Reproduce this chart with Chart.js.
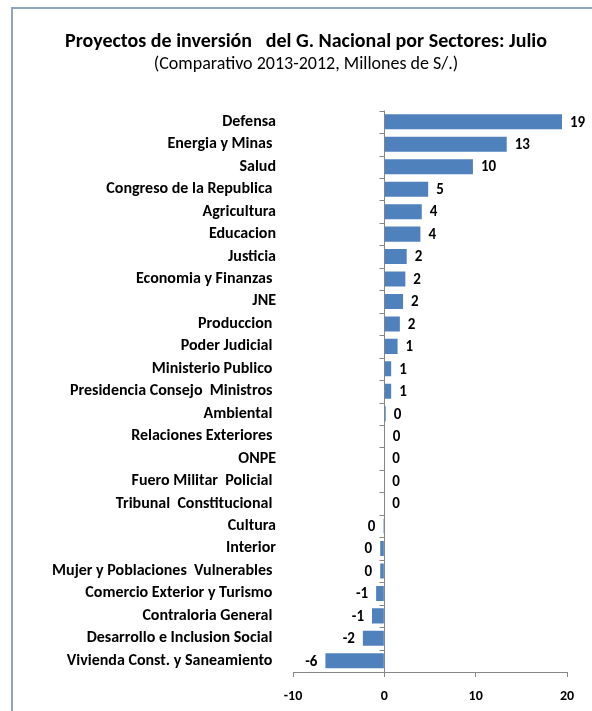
<!DOCTYPE html>
<html>
<head>
<meta charset="utf-8">
<script src="https://cdn.jsdelivr.net/npm/chart.js@4/dist/chart.umd.min.js"></script>
<style>
  html, body { margin: 0; padding: 0; background: #ffffff; }
  #wrap { position: relative; width: 592px; height: 711px; overflow: hidden; background: #fff; }
  #frame { position: absolute; left: 11px; top: 7px; width: 600px; height: 720px;
           border-left: 2px solid #8EA4C2; border-top: 2px solid #8EA4C2; pointer-events: none; }
  canvas { position: absolute; left: 0; top: 0; }
</style>
</head>
<body>
<div id="wrap">
  <canvas id="c" width="592" height="711"></canvas>
  <div id="frame"></div>
</div>
<script>
const titleText = 'Proyectos de inversión   del G. Nacional por Sectores: Julio';
const subtitleText = '(Comparativo 2013-2012, Millones de S/.)';

const categories = [
  'Defensa', 'Energia y Minas ', 'Salud', 'Congreso de la Republica ', 'Agricultura',
  'Educacion', 'Justicia', 'Economia y Finanzas ', 'JNE', 'Produccion ',
  'Poder Judicial ', 'Ministerio Publico ', 'Presidencia Consejo  Ministros ', 'Ambiental ',
  'Relaciones Exteriores ', 'ONPE', 'Fuero Militar  Policial ', 'Tribunal  Constitucional ',
  'Cultura', 'Interior', 'Mujer y Poblaciones  Vulnerables ', 'Comercio Exterior y Turismo ',
  'Contraloria General ', 'Desarrollo e Inclusion Social ', 'Vivienda Const. y Saneamiento '
];

const values = [
  19.45, 13.4, 9.7, 4.8, 4.1,
  3.95, 2.45, 2.3, 2.05, 1.7,
  1.45, 0.75, 0.75, 0.15,
  0.05, 0.0, 0.0, 0.0,
  -0.1, -0.45, -0.45, -0.9,
  -1.35, -2.35, -6.45
];

const xTicks = [-10, 0, 10, 20];

const FONT = 'Carlito, Calibri, Lato, "Open Sans", sans-serif';
const AXIS_GRAY = '#868686';

const valueLabels = {
  id: 'valueLabels',
  afterDatasetsDraw(chart) {
    const ctx = chart.ctx;
    const meta = chart.getDatasetMeta(0);
    ctx.save();
    ctx.font = 'bold 15px ' + FONT;
    ctx.fillStyle = '#000';
    ctx.textBaseline = 'middle';
    meta.data.forEach((bar, i) => {
      const v = values[i];
      const txt = String(Math.round(v) || 0);
      if (v < 0) { ctx.textAlign = 'right'; ctx.fillText(txt, bar.x - 8, bar.y + 1); }
      else { ctx.textAlign = 'left'; ctx.fillText(txt, bar.x + 8, bar.y + 1); }
    });
    ctx.restore();
  }
};

const zeroAxisTicks = {
  id: 'zeroAxisTicks',
  afterDatasetsDraw(chart) {
    const ctx = chart.ctx;
    const ys = chart.scales.y;
    const x0 = Math.round(chart.scales.x.getPixelForValue(0)) + 0.5;
    const n = categories.length;
    ctx.save();
    ctx.strokeStyle = AXIS_GRAY;
    ctx.lineWidth = 1;
    ctx.beginPath();
    for (let i = 0; i <= n; i++) {
      const y = Math.round(ys.top + i * (ys.bottom - ys.top) / n) + 0.5;
      ctx.moveTo(x0 - 5, y);
      ctx.lineTo(x0, y);
    }
    ctx.stroke();
    ctx.restore();
  }
};

new Chart(document.getElementById('c'), {
  type: 'bar',
  data: {
    labels: categories,
    datasets: [{
      data: values,
      backgroundColor: '#4F81BD',
      borderWidth: 0,
      barPercentage: 0.67,
      categoryPercentage: 1.0
    }]
  },
  options: {
    indexAxis: 'y',
    responsive: false,
    animation: false,
    devicePixelRatio: 1,
    layout: { padding: { left: 45, right: 25, top: 20, bottom: 0 } },
    plugins: {
      legend: { display: false },
      tooltip: { enabled: false },
      title: {
        display: true, text: titleText, color: '#000',
        font: { family: FONT, size: 20, weight: 'bold' },
        padding: { top: 10, bottom: 0 }
      },
      subtitle: {
        display: true, text: subtitleText, color: '#000',
        font: { family: FONT, size: 18, weight: 'normal' },
        padding: { top: 0, bottom: 35 }
      }
    },
    scales: {
      x: {
        type: 'linear', min: -10, max: 20,
        afterBuildTicks(scale) { scale.ticks = xTicks.map(v => ({ value: v })); },
        afterFit(scale) { scale.height = 39; },
        grid: {
          drawOnChartArea: true,
          color: ctx => (ctx.tick && ctx.tick.value === 0) ? AXIS_GRAY : 'rgba(0,0,0,0)',
          tickColor: AXIS_GRAY, tickLength: 5, lineWidth: 1
        },
        border: { display: true, color: AXIS_GRAY, width: 1 },
        ticks: { color: '#000', font: { family: FONT, size: 14, weight: 'bold' }, padding: 11, maxRotation: 0 }
      },
      y: {
        grid: { display: false, drawTicks: false },
        border: { display: false },
        afterFit(scale) { scale.width = 248; },
        ticks: { color: '#000', font: { family: FONT, size: 16, weight: 'bold' }, padding: 17, autoSkip: false }
      }
    }
  },
  plugins: [valueLabels, zeroAxisTicks]
});
</script>
</body>
</html>
